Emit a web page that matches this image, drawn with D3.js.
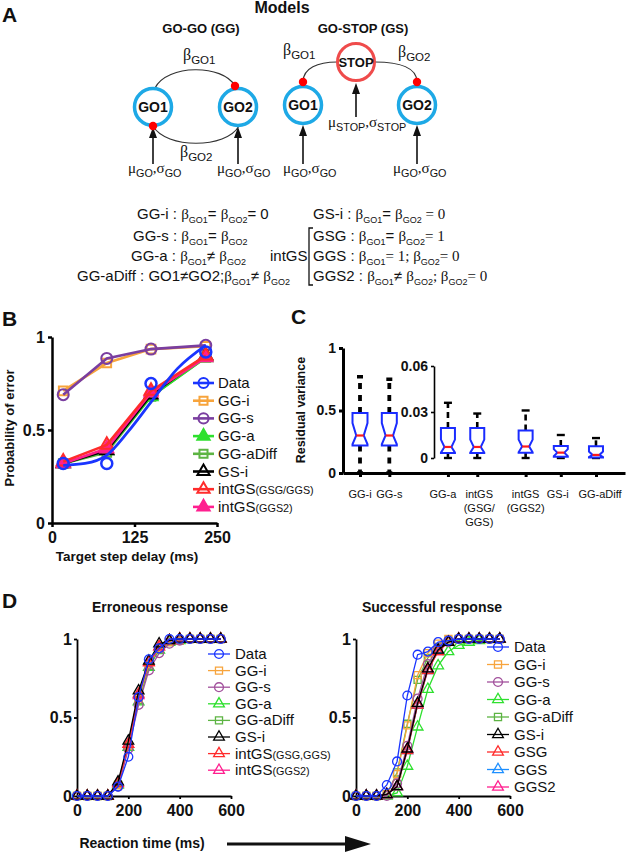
<!DOCTYPE html>
<html>
<head>
<meta charset="utf-8">
<script src="https://cdn.jsdelivr.net/npm/d3@7"></script>
<style>
  body { margin: 0; background: #fff; }
  svg { display: block; }
  text { font-family: "Liberation Sans", Arial, Helvetica, sans-serif; fill: #111; }
</style>
</head>
<body>
<div id="container"></div>
<script>
// ---- panel B : probability of error vs target step delay ----
const bDelays = [17, 83, 150, 233];
const bDataObs = [0.32, 0.32, 0.75, 0.92];
const bFitDelays = [17, 50, 83, 115, 150, 190, 233];
const bFitVals = [0.31, 0.32, 0.365, 0.49, 0.65, 0.83, 0.955];
const bGGi = [0.71, 0.86, 0.935, 0.95];
const bGGs = [0.69, 0.885, 0.935, 0.955];
const bGGa = [0.32, 0.39, 0.68, 0.89];
const bGGaDiff = [0.32, 0.38, 0.68, 0.89];
const bGSi = [0.32, 0.39, 0.69, 0.90];
const bIntGS = [0.33, 0.42, 0.71, 0.90];
const bIntGS2 = [0.32, 0.40, 0.70, 0.89];
const bTicksX = [0, 125, 250];
const bTicksY = [0, 0.5, 1];

// ---- panel C : residual variance boxplots ----
const cCategories = ["GG-i", "GG-s", "GG-a", "intGS\n(GSG/\nGGS)", "intGS\n(GGS2)", "GS-i", "GG-aDiff"];
const cPositions = [1, 2, 4, 5, 6.65, 7.85, 9.05];
const cInset = [false, false, true, true, true, true, true];
const cLow = [0, 0, 0, 0, 0, 0, 0];
const cQ1 = [0.22, 0.22, 0.0033, 0.0033, 0.0035, 0.0008, 0.0004];
const cMedian = [0.30, 0.30, 0.0072, 0.0072, 0.0075, 0.0035, 0.002];
const cQ3 = [0.48, 0.48, 0.0196, 0.0196, 0.018, 0.0078, 0.0076];
const cHigh = [0.77, 0.75, 0.036, 0.029, 0.031, 0.015, 0.013];
const cNotchLo = [0.23, 0.23, 0.0035, 0.0035, 0.0037, 0.0012, 0.0006];
const cNotchHi = [0.40, 0.40, 0.012, 0.012, 0.012, 0.0058, 0.0042];
const cTicksMain = [0, 0.5, 1];
const cTicksInset = [0, 0.03, 0.06];

// ---- panel D : cumulative RT distributions ----
const dTimes = [0, 40, 80, 120, 160, 200, 240, 280, 320, 360, 400, 440, 480, 520, 560];
const dErrData     = [0, 0, 0, 0, 0.06, 0.25, 0.63, 0.87, 0.94, 1, 1, 1, 1, 1, 1];
const dErrGGi      = [0, 0, 0, 0, 0.07, 0.32, 0.62, 0.84, 0.94, 0.98, 0.99, 1, 1, 1, 1];
const dErrGGs      = [0, 0, 0, 0, 0.06, 0.30, 0.58, 0.80, 0.91, 0.97, 0.99, 1, 1, 1, 1];
const dErrGGa      = [0, 0, 0, 0, 0.07, 0.31, 0.60, 0.82, 0.93, 0.98, 0.99, 1, 1, 1, 1];
const dErrGGaDiff  = [0, 0, 0, 0, 0.07, 0.32, 0.61, 0.83, 0.93, 0.98, 0.99, 1, 1, 1, 1];
const dErrGSi      = [0, 0, 0, 0, 0.09, 0.35, 0.67, 0.86, 0.97, 0.99, 1, 1, 1, 1, 1];
const dErrIntGS    = [0, 0, 0, 0, 0.08, 0.33, 0.65, 0.85, 0.95, 0.99, 1, 1, 1, 1, 1];
const dErrIntGS2   = [0, 0, 0, 0, 0.08, 0.33, 0.64, 0.85, 0.95, 0.99, 1, 1, 1, 1, 1];
const dSucData     = [0, 0, 0, 0.07, 0.22, 0.64, 0.90, 0.92, 0.98, 0.99, 1, 1, 1, 1, 1];
const dSucGGi      = [0, 0, 0, 0.01, 0.14, 0.45, 0.77, 0.91, 0.97, 1, 1, 1, 1, 1, 1];
const dSucGGs      = [0, 0, 0, 0, 0.08, 0.32, 0.62, 0.84, 0.94, 0.98, 1, 1, 1, 1, 1];
const dSucGGa      = [0, 0, 0, 0, 0.02, 0.19, 0.44, 0.68, 0.83, 0.92, 0.96, 0.98, 0.99, 1, 1];
const dSucGGaDiff  = [0, 0, 0, 0.01, 0.15, 0.46, 0.74, 0.88, 0.95, 0.99, 1, 1, 1, 1, 1];
const dSucGSi      = [0, 0, 0, 0.01, 0.06, 0.30, 0.59, 0.81, 0.93, 0.98, 1, 1, 1, 1, 1];
const dSucGSG      = [0, 0, 0, 0.01, 0.06, 0.29, 0.58, 0.80, 0.92, 0.98, 1, 1, 1, 1, 1];
const dSucGGS      = [0, 0, 0, 0.01, 0.06, 0.29, 0.58, 0.80, 0.93, 0.98, 1, 1, 1, 1, 1];
const dSucGGS2     = [0, 0, 0, 0.01, 0.06, 0.30, 0.58, 0.81, 0.92, 0.98, 1, 1, 1, 1, 1];
const dTicksX = [0, 200, 400, 600];
const dTicksY = [0, 0.5, 1];

const SERIF = "'Liberation Serif', 'Times New Roman', serif";
const BLUE = "#1a35ff", ORANGE = "#f7a43c", PURPLE = "#7a3ea0", PURPLE_D = "#a2519c",
      GREEN = "#2ee02e", GREEN2 = "#5db443", RED = "#ff2b2b", SKY = "#1e8fff", MAGENTA = "#ff1f8f";

// series style lookups (kept apart from the values)
const style = {
  "Data":           { color: BLUE,    sym: d3.symbolCircle,   filled: false },
  "GG-i":           { color: ORANGE,  sym: d3.symbolSquare,   filled: false },
  "GG-s":           { color: PURPLE,  sym: d3.symbolCircle,   filled: false },
  "GG-a":           { color: GREEN,   sym: d3.symbolTriangle, filled: true },
  "GG-aDiff":       { color: GREEN2,  sym: d3.symbolSquare,   filled: false },
  "GS-i":           { color: "#000",  sym: d3.symbolTriangle, filled: false },
  "intGS(GSG/GGS)": { color: RED,     sym: d3.symbolTriangle, filled: false },
  "intGS(GGS2)":    { color: MAGENTA, sym: d3.symbolTriangle, filled: true },
  "GSG":            { color: RED,     sym: d3.symbolTriangle, filled: false },
  "GGS":            { color: SKY,     sym: d3.symbolTriangle, filled: false }
};

const svg = d3.select("#container").append("svg").attr("width", 626).attr("height", 852);

// text with serif / subscript / small pieces
function rich(g, x, y, parts, size, opts = {}) {
  const t = g.append("text").attr("x", x).attr("y", y).attr("font-size", size)
    .attr("text-anchor", opts.anchor || "start")
    .attr("font-weight", opts.bold ? "bold" : null);
  let shift = 0;
  parts.forEach(p => {
    const str = Array.isArray(p) ? p[0] : p;
    const kind = Array.isArray(p) ? p[1] : "";
    const down = kind.includes("sub") ? size * (opts.drop || 0.3) : 0;
    const ts = t.append("tspan").attr("dy", down - shift).text(str);
    shift = down;
    if (kind.includes("sub") || kind.includes("small")) ts.attr("font-size", size * (opts.sub || 0.65));
    if (kind.includes("serif")) ts.attr("font-family", SERIF);
  });
  return t;
}

function panelLabel(x, y, s) {
  svg.append("text").attr("x", x).attr("y", y).attr("font-size", 21).attr("font-weight", "bold").text(s);
}

function styleAxis(g, fs, sw) {
  g.selectAll("path.domain").attr("stroke", "#000").attr("stroke-width", sw);
  g.selectAll(".tick line").attr("stroke", "#000").attr("stroke-width", sw);
  g.selectAll(".tick text").attr("font-size", fs).attr("font-weight", "bold")
    .attr("font-family", "'Liberation Sans', Arial, sans-serif").attr("fill", "#111");
}

function marker(g, name, x, y, size, sw, colorOverride, open) {
  const st = style[name];
  const c = colorOverride || st.color;
  g.append("path")
    .attr("d", d3.symbol().type(st.sym).size(size)())
    .attr("transform", `translate(${x},${y})`)
    .attr("fill", st.filled && !open ? c : "none")
    .attr("stroke", c).attr("stroke-width", sw);
}

// ================= PANEL A =================
panelLabel(2, 22, "A");
const a = svg.append("g");
a.append("text").attr("x", 282).attr("y", 13).attr("text-anchor", "middle")
  .attr("font-size", 16).attr("font-weight", "bold").text("Models");
a.append("text").attr("x", 201).attr("y", 33).attr("text-anchor", "middle")
  .attr("font-size", 13).attr("font-weight", "bold").text("GO-GO (GG)");
a.append("text").attr("x", 363).attr("y", 33).attr("text-anchor", "middle")
  .attr("font-size", 13).attr("font-weight", "bold").text("GO-STOP (GS)");

// connections
const arcs = [
  "M155,88 C167,64 223,64 235,86",
  "M153,126 C166,149 226,149 239,126",
  "M303,82 C303,68 318,62 337,62",
  "M375,62 C400,62 417,68 417,82"
];
a.selectAll(".arc").data(arcs).enter().append("path")
  .attr("d", d => d).attr("fill", "none").attr("stroke", "#333").attr("stroke-width", 1.2);

// input arrows
const arrows = [[153, 164, 127], [238, 164, 127], [303, 164, 125], [417, 164, 125], [356, 117, 83]];
arrows.forEach(([x, y0, y1]) => {
  a.append("line").attr("x1", x).attr("x2", x).attr("y1", y0).attr("y2", y1 + 8)
    .attr("stroke", "#111").attr("stroke-width", 1.6);
  a.append("path").attr("d", `M${x},${y1} L${x - 4},${y1 + 11} L${x + 4},${y1 + 11} Z`).attr("fill", "#111");
});

const nodes = [[153, 107, "GO1", "#1ea9e6"], [238, 107, "GO2", "#1ea9e6"],
               [303, 105, "GO1", "#1ea9e6"], [417, 105, "GO2", "#1ea9e6"], [356, 62, "STOP", "#ef4b4b"]];
nodes.forEach(([x, y, lab, col]) => {
  a.append("circle").attr("cx", x).attr("cy", y).attr("r", 18.5)
    .attr("fill", "#fff").attr("stroke", col).attr("stroke-width", lab === "STOP" ? 3 : 3.5);
  a.append("text").attr("x", x).attr("y", y + 5).attr("text-anchor", "middle")
    .attr("font-size", lab === "STOP" ? 13 : 14).attr("font-weight", "bold").text(lab);
});

[[153, 126], [235, 86], [303, 82], [417, 82]].forEach(([x, y]) => {
  a.append("circle").attr("cx", x).attr("cy", y).attr("r", 4.2).attr("fill", "#f00");
});

const beta = n => [["β", "serif"], ["GO" + n, "sub"]];
rich(a, 183, 60, beta(1), 16, { sub: 0.72, drop: 0.28 });
rich(a, 180, 157, beta(2), 16, { sub: 0.72, drop: 0.28 });
rich(a, 283, 55, beta(1), 16, { sub: 0.72, drop: 0.28 });
rich(a, 398, 57, beta(2), 16, { sub: 0.72, drop: 0.28 });

const muGO = [["μ", "serif"], ["GO", "sub"], [",", "serif"], ["σ", "serif"], ["GO", "sub"]];
[128, 217, 283, 393].forEach(x => rich(a, x, 173, muGO, 15, { sub: 0.72, drop: 0.27 }));
rich(a, 328, 127, [["μ", "serif"], ["STOP", "sub"], [",", "serif"], ["σ", "serif"], ["STOP", "sub"]], 15, { sub: 0.72, drop: 0.27 });

// model equations
const B1 = [["β", "serif"], ["GO1", "sub"]], B2 = [["β", "serif"], ["GO2", "sub"]];
const eqs = [
  [137, 219, ["GG-i : ", ...B1, "= ", ...B2, "= 0"]],
  [133, 241, ["GG-s : ", ...B1, "= ", ...B2]],
  [131, 261, ["GG-a : ", ...B1, "≠ ", ...B2]],
  [77, 281, ["GG-aDiff : GO1≠GO2;", ...B1, "≠ ", ...B2]],
  [313, 219, ["GS-i : ", ...B1, "= ", ...B2, [" = 0", "serif"]]],
  [313, 241, ["GSG : ", ...B1, "= ", ...B2, ["= 1", "serif"]]],
  [313, 261, ["GGS : ", ...B1, ["= 1; ", "serif"], ...B2, ["= 0", "serif"]]],
  [313, 281, ["GGS2 : ", ...B1, "≠ ", ...B2, ["; ", "serif"], ...B2, ["= 0", "serif"]]]
];
eqs.forEach(([x, y, parts]) => rich(a, x, y, parts, 15, { sub: 0.6, drop: 0.25 }));
a.append("text").attr("x", 270).attr("y", 261).attr("font-size", 15).text("intGS");
a.append("path").attr("d", "M313,228 H309 V285 H313").attr("fill", "none").attr("stroke", "#111").attr("stroke-width", 1.3);

// ================= PANEL B =================
panelLabel(2, 326, "B");
const xB = d3.scaleLinear().domain([0, 250]).range([52, 217]);
const yB = d3.scaleLinear().domain([0, 1]).range([523, 337]);
const gB = svg.append("g");
styleAxis(gB.append("g").attr("transform", "translate(0,523)")
  .call(d3.axisBottom(xB).tickValues(bTicksX).tickSize(4).tickSizeOuter(0).tickPadding(5)), 16, 2.5);
styleAxis(gB.append("g").attr("transform", "translate(52,0)")
  .call(d3.axisLeft(yB).tickValues(bTicksY).tickFormat(d3.format("~g")).tickSize(4).tickSizeOuter(0).tickPadding(3)), 16, 2.5);
gB.append("text").attr("x", 127).attr("y", 561).attr("text-anchor", "middle")
  .attr("font-size", 13.5).attr("font-weight", "bold").text("Target step delay (ms)");
gB.append("text").attr("transform", "translate(14,428) rotate(-90)").attr("text-anchor", "middle")
  .attr("font-size", 13).attr("font-weight", "bold").text("Probability of error");

const bModels = [["GG-i", bGGi], ["GG-s", bGGs], ["GG-aDiff", bGGaDiff], ["GG-a", bGGa],
                 ["GS-i", bGSi], ["intGS(GGS2)", bIntGS2], ["intGS(GSG/GGS)", bIntGS]];
const lineB = d3.line().x(d => xB(d[0])).y(d => yB(d[1]));
bModels.forEach(([name, vals]) => {
  const pts = bDelays.map((t, i) => [t, vals[i]]);
  gB.append("path").attr("d", lineB(pts)).attr("fill", "none")
    .attr("stroke", style[name].color).attr("stroke-width", 2.6);
  pts.forEach(p => marker(gB, name, xB(p[0]), yB(p[1]), name.startsWith("GG-s") ? 95 : 75, 2));
});
const fitLine = d3.line().x(d => xB(d[0])).y(d => yB(d[1])).curve(d3.curveMonotoneX);
gB.append("path").attr("d", fitLine(bFitDelays.map((t, i) => [t, bFitVals[i]])))
  .attr("fill", "none").attr("stroke", BLUE).attr("stroke-width", 2.8);
bDelays.forEach((t, i) => marker(gB, "Data", xB(t), yB(bDataObs[i]), 95, 2.5));

const bLegend = ["Data", "GG-i", "GG-s", "GG-a", "GG-aDiff", "GS-i", "intGS(GSG/GGS)", "intGS(GGS2)"];
bLegend.forEach((name, i) => {
  const y = 383 + i * 17.7;
  gB.append("line").attr("x1", 193).attr("x2", 214).attr("y1", y).attr("y2", y)
    .attr("stroke", style[name].color).attr("stroke-width", 2.6);
  marker(gB, name, 203.5, y, name === "Data" || name === "GG-s" ? 80 : 65, 2);
  const m = name.match(/^(intGS)(\(.*\))$/);
  if (m) rich(gB, 218, y + 5, [m[1], [m[2], "small"]], 15, { sub: 0.72 });
  else gB.append("text").attr("x", 218).attr("y", y + 5).attr("font-size", 15).text(name);
});

// ================= PANEL C =================
panelLabel(291, 324, "C");
const gC = svg.append("g");
const xC = d3.scaleLinear().domain([0.42, 10.04]).range([343, 625]);
const yC = d3.scaleLinear().domain([0, 1]).range([473, 348]);
const yCi = d3.scaleLinear().domain([0, 0.06]).range([458, 366]);
const cLabelNudge = [0, 0, -5, 2, 0, -3, 4];
styleAxis(gC.append("g").attr("transform", "translate(0,473)")
  .call(d3.axisBottom(xC).tickValues(cPositions).tickFormat("").tickSize(4).tickSizeOuter(0)), 13, 3);
styleAxis(gC.append("g").attr("transform", "translate(343,0)")
  .call(d3.axisLeft(yC).tickValues(cTicksMain).tickFormat(d3.format("~g")).tickSize(4).tickSizeOuter(0).tickPadding(3)), 14, 3);
styleAxis(gC.append("g").attr("transform", "translate(434,0)")
  .call(d3.axisLeft(yCi).tickValues(cTicksInset).tickFormat(d3.format("~g")).tickSize(3).tickSizeOuter(0).tickPadding(3)), 14, 1.6);
gC.append("text").attr("transform", "translate(305,410) rotate(-90)").attr("text-anchor", "middle")
  .attr("font-size", 12.5).attr("font-weight", "bold").text("Residual variance");

cCategories.forEach((cat, i) => {
  const x = xC(cPositions[i]);
  const y = cInset[i] ? yCi : yC;
  const main = !cInset[i];
  const w = main ? 15 : 14, hw = w / 2, nw = w / 4;
  // whiskers (dashed) and caps
  [[cQ3[i], cHigh[i]], [cQ1[i], cLow[i]]].forEach(([from, to]) => {
    gC.append("line").attr("x1", x).attr("x2", x).attr("y1", y(from)).attr("y2", y(to))
      .attr("stroke", "#000").attr("stroke-width", main ? 3.8 : 2.6)
      .attr("stroke-dasharray", main ? "6,6" : "6,4");
    gC.append("line").attr("x1", x - (main ? 3 : 4)).attr("x2", x + (main ? 3 : 4))
      .attr("y1", y(to)).attr("y2", y(to)).attr("stroke", "#000").attr("stroke-width", main ? 3.5 : 2.4);
  });
  const pts = [[x - hw, y(cQ3[i])], [x + hw, y(cQ3[i])], [x + hw, y(cNotchHi[i])], [x + nw, y(cMedian[i])],
               [x + hw, y(cNotchLo[i])], [x + hw, y(cQ1[i])], [x - hw, y(cQ1[i])], [x - hw, y(cNotchLo[i])],
               [x - nw, y(cMedian[i])], [x - hw, y(cNotchHi[i])]];
  gC.append("path").attr("d", d3.line()(pts) + "Z").attr("fill", "#fff")
    .attr("stroke", "#1a2cff").attr("stroke-width", 2);
  gC.append("line").attr("x1", x - nw).attr("x2", x + nw).attr("y1", y(cMedian[i])).attr("y2", y(cMedian[i]))
    .attr("stroke", "#ff1a1a").attr("stroke-width", 2.2);
  // category label, possibly multi-line
  const lx = x + cLabelNudge[i];
  const t = gC.append("text").attr("x", lx).attr("y", 498).attr("text-anchor", "middle").attr("font-size", 11);
  cat.split("\n").forEach((ln, k) => t.append("tspan").attr("x", lx).attr("dy", k ? 14 : 0).text(ln));
});

// ================= PANEL D =================
panelLabel(2, 608, "D");
function cdfPanel(x0, title, titleX, series, legendNames, legendTop, legendStep) {
  const g = svg.append("g");
  const x = d3.scaleLinear().domain([0, 600]).range([x0, x0 + 154]);
  const y = d3.scaleLinear().domain([0, 1]).range([796, 639]);
  styleAxis(g.append("g").attr("transform", "translate(0,796)")
    .call(d3.axisBottom(x).tickValues(dTicksX).tickSize(3).tickSizeOuter(0).tickPadding(6)), 16, 1.8);
  styleAxis(g.append("g").attr("transform", `translate(${x0},0)`)
    .call(d3.axisLeft(y).tickValues(dTicksY).tickFormat(d3.format("~g")).tickSize(3).tickSizeOuter(0).tickPadding(2)), 16, 1.8);
  g.append("text").attr("x", titleX).attr("y", 612).attr("text-anchor", "middle")
    .attr("font-size", 14).attr("font-weight", "bold").text(title);
  const line = d3.line().x(d => x(d[0])).y(d => y(d[1]));
  series.forEach(([name, vals, col]) => {
    const pts = dTimes.map((t, i) => [t, vals[i]]);
    const c = col || style[name].color;
    g.append("path").attr("d", line(pts)).attr("fill", "none").attr("stroke", c).attr("stroke-width", 1.3);
    pts.forEach(p => marker(g, name, x(p[0]), y(p[1]), name === "Data" || name === "GG-s" ? 62 : 50, 1.3, c, true));
  });
  legendNames.forEach(([name, label, col], i) => {
    const ly = legendTop + i * legendStep;
    const lx = x0 + 131;
    const c = col || style[name].color;
    g.append("line").attr("x1", lx).attr("x2", lx + 22).attr("y1", ly).attr("y2", ly)
      .attr("stroke", c).attr("stroke-width", 1.3);
    marker(g, name, lx + 11, ly, name === "Data" || name === "GG-s" ? 62 : 50, 1.3, c, true);
    const m = label.match(/^(intGS)(\(.*\))$/);
    if (m) rich(g, lx + 27, ly + 5, [m[1], [m[2], "small"]], 15, { sub: 0.72 });
    else g.append("text").attr("x", lx + 27).attr("y", ly + 5).attr("font-size", 15).text(label);
  });
  return g;
}

cdfPanel(77, "Erroneous response", 160, [
  ["GG-a", dErrGGa], ["GG-aDiff", dErrGGaDiff], ["GG-i", dErrGGi], ["GG-s", dErrGGs, PURPLE_D],
  ["intGS(GGS2)", dErrIntGS2], ["intGS(GSG/GGS)", dErrIntGS], ["GS-i", dErrGSi], ["Data", dErrData]
], [
  ["Data", "Data"], ["GG-i", "GG-i"], ["GG-s", "GG-s", PURPLE_D], ["GG-a", "GG-a"], ["GG-aDiff", "GG-aDiff"],
  ["GS-i", "GS-i"], ["intGS(GSG/GGS)", "intGS(GSG,GGS)"], ["intGS(GGS2)", "intGS(GGS2)"]
], 654, 16.6);

cdfPanel(356, "Successful response", 432, [
  ["GG-a", dSucGGa], ["GG-aDiff", dSucGGaDiff], ["GG-i", dSucGGi], ["GG-s", dSucGGs, PURPLE_D],
  ["intGS(GGS2)", dSucGGS2], ["GGS", dSucGGS], ["GSG", dSucGSG], ["GS-i", dSucGSi], ["Data", dSucData]
], [
  ["Data", "Data"], ["GG-i", "GG-i"], ["GG-s", "GG-s", PURPLE_D], ["GG-a", "GG-a"], ["GG-aDiff", "GG-aDiff"],
  ["GS-i", "GS-i"], ["GSG", "GSG"], ["GGS", "GGS"], ["intGS(GGS2)", "GGS2"]
], 647, 17.5);

// shared axis title with arrow
svg.append("text").attr("transform", "translate(142,848)").attr("text-anchor", "middle")
  .attr("font-size", 14).attr("font-weight", "bold").text("Reaction time (ms)");
svg.append("line").attr("x1", 227).attr("x2", 350).attr("y1", 844).attr("y2", 844)
  .attr("stroke", "#111").attr("stroke-width", 3);
svg.append("path").attr("d", "M345,836 L371,844 L345,852 Z").attr("fill", "#111");
</script>
</body>
</html>
